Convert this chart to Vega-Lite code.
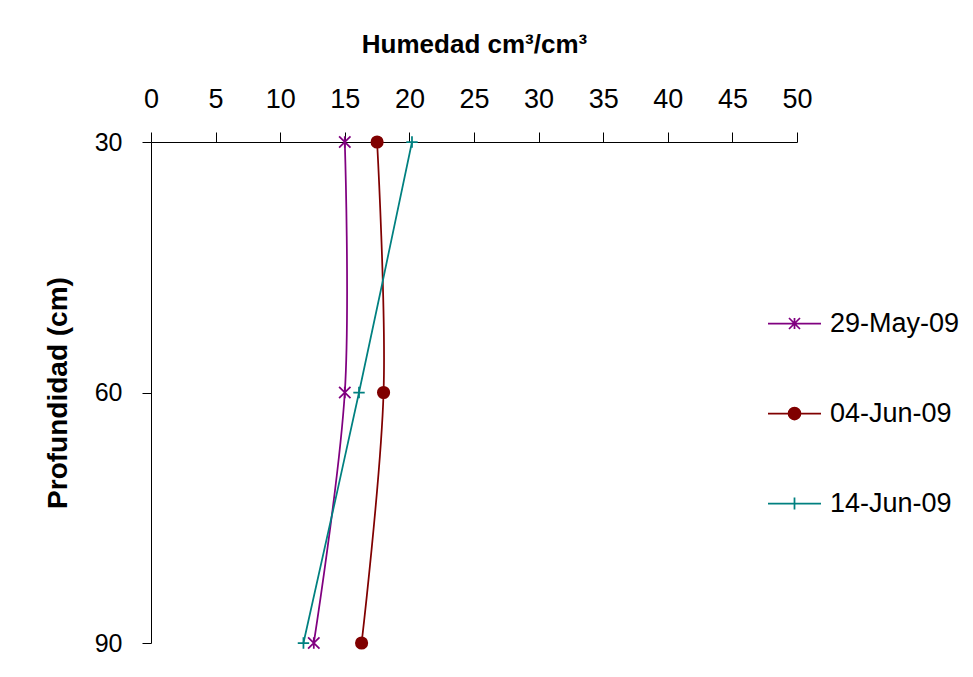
{
  "$schema": "https://vega.github.io/schema/vega-lite/v6.json",
  "width": 646,
  "height": 501,
  "autosize": "none",
  "padding": {"left": 151, "top": 142, "right": 176, "bottom": 34},
  "background": "white",
  "config": {
    "view": {"stroke": null},
    "font": "Liberation Sans",
    "axis": {"grid": false, "domainColor": "black", "tickColor": "black", "labelColor": "black", "titleColor": "black", "domainWidth": 1, "tickWidth": 1}
  },
  "data": {
    "values": [
      {"fecha": "29-May-09", "profundidad": 30, "humedad": 15.0},
      {"fecha": "29-May-09", "profundidad": 60, "humedad": 15.0},
      {"fecha": "29-May-09", "profundidad": 90, "humedad": 12.6},
      {"fecha": "04-Jun-09", "profundidad": 30, "humedad": 17.5},
      {"fecha": "04-Jun-09", "profundidad": 60, "humedad": 18.0},
      {"fecha": "04-Jun-09", "profundidad": 90, "humedad": 16.3},
      {"fecha": "14-Jun-09", "profundidad": 30, "humedad": 20.2},
      {"fecha": "14-Jun-09", "profundidad": 60, "humedad": 16.1},
      {"fecha": "14-Jun-09", "profundidad": 90, "humedad": 11.8}
    ]
  },
  "encoding": {
    "x": {
      "field": "humedad", "type": "quantitative",
      "scale": {"domain": [0, 50], "nice": false, "zero": false},
      "axis": {
        "orient": "top", "title": "Humedad cm³/cm³", "values": [0,5,10,15,20,25,30,35,40,45,50],
        "tickSize": 10, "labelPadding": 19, "labelFontSize": 27, "labelFlush": false, "labelOverlap": false,
        "titleFontSize": 26, "titleFontWeight": "bold", "titlePadding": 28
      }
    },
    "y": {
      "field": "profundidad", "type": "quantitative",
      "scale": {"domain": [30, 90], "nice": false, "zero": false, "reverse": true},
      "axis": {
        "title": "Profundidad (cm)", "values": [30, 60, 90],
        "tickSize": 9, "labelPadding": 20, "labelFontSize": 25, "labelFlush": false,
        "titleFontSize": 28, "titleFontWeight": "bold", "titlePadding": 22
      }
    }
  },
  "layer": [
    {
      "mark": {"type": "point", "filled": true, "opacity": 0, "strokeWidth": 1.75, "size": 100},
      "encoding": {
        "color": {
          "field": "fecha", "type": "nominal",
          "scale": {"domain": ["29-May-09", "04-Jun-09", "14-Jun-09"], "range": ["#800080", "#800000", "#008080"]},
          "legend": {
            "title": null, "orient": "none", "legendX": 630, "legendY": 168,
            "padding": 0, "symbolSize": 100, "symbolOpacity": 1, "symbolStrokeWidth": 1.75,
            "labelFontSize": 27, "labelOffset": 22, "rowPadding": 62, "labelColor": "black"
          }
        },
        "stroke": {"field": "fecha", "type": "nominal",
          "scale": {"domain": ["29-May-09", "04-Jun-09", "14-Jun-09"], "range": ["#800080", "#800000", "#008080"]}},
        "shape": {
          "field": "fecha", "type": "nominal",
          "scale": {"domain": ["29-May-09", "04-Jun-09", "14-Jun-09"], "range": [
            "M-5.3,0L5.3,0M-1.1,-1.1L1.1,1.1M1.1,-1.1L-1.1,1.1M0,-1.1L0,1.1",
            "M-5.3,0L5.3,0M-1.2,0A1.2,1.2,0,1,1,1.2,0A1.2,1.2,0,1,1,-1.2,0Z",
            "M-5.3,0L5.3,0M0,-1.2L0,1.2"
          ]}
        }
      }
    },
    {
      "mark": {"type": "line", "interpolate": "catmull-rom", "strokeWidth": 1.75},
      "encoding": {
        "order": {"field": "profundidad", "type": "quantitative"},
        "color": {"field": "fecha", "type": "nominal"}
      }
    },
    {
      "mark": {"type": "point", "filled": true, "opacity": 1, "strokeWidth": 1.75, "size": 130},
      "encoding": {
        "color": {"field": "fecha", "type": "nominal"},
        "stroke": {"field": "fecha", "type": "nominal"},
        "shape": {
          "condition": [
            {"test": "datum.fecha === '29-May-09'", "value": "M-1,-1L1,1M1,-1L-1,1M0,-1L0,1"},
            {"test": "datum.fecha === '04-Jun-09'", "value": "circle"}
          ],
          "value": "M-1,0L1,0M0,-1L0,1"
        }
      }
    }
  ]
}
